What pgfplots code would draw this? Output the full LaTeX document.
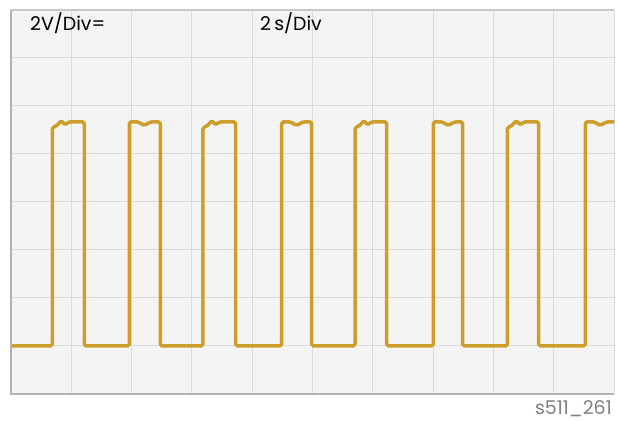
\documentclass[border=0pt]{standalone}
\usepackage{fontspec}
\setmainfont{Poppins}
\usepackage{pgfplots}
\pgfplotsset{compat=1.18}
\definecolor{wave}{RGB}{205,158,44}
\definecolor{bgc}{RGB}{244,244,244}
\definecolor{gridc}{RGB}{218,218,218}
\definecolor{bordc}{RGB}{178,178,178}
\definecolor{topc}{RGB}{200,200,200}
\definecolor{labc}{RGB}{128,128,128}
\begin{document}
\begin{tikzpicture}
\useasboundingbox (0,0) rectangle (618bp,421bp);
\begin{axis}[
  at={(11bp,27bp)}, anchor=south west,
  scale only axis, width=603bp, height=384bp,
  xmin=0, xmax=10, ymin=0, ymax=8,
  xtick={0,...,10}, ytick={0,...,8},
  xticklabels={}, yticklabels={},
  tick style={draw=none},
  grid=major, grid style={draw=gridc, line width=1bp},
  axis line style={draw=none},
  axis background/.style={fill=bgc},
  clip=false]
\addplot[wave, line width=3.5bp, rounded corners=1.8bp, line join=round] coordinates {
(0,1)
(0.685,1) (0.685,5.56) (0.745,5.57) (0.835,5.70) (0.895,5.60) (0.955,5.67) (1.216,5.67) (1.216,1)
(1.962,1) (1.962,5.67) (2.112,5.67) (2.212,5.59) (2.312,5.67) (2.476,5.67) (2.476,1)
(3.184,1) (3.184,5.56) (3.244,5.57) (3.334,5.70) (3.394,5.60) (3.454,5.67) (3.726,5.67) (3.726,1)
(4.489,1) (4.489,5.67) (4.639,5.67) (4.739,5.59) (4.839,5.67) (4.987,5.67) (4.987,1)
(5.705,1) (5.705,5.56) (5.765,5.57) (5.855,5.70) (5.915,5.60) (5.975,5.67) (6.231,5.67) (6.231,1)
(7.003,1) (7.003,5.67) (7.153,5.67) (7.253,5.59) (7.353,5.67) (7.491,5.67) (7.491,1)
(8.231,1) (8.231,5.56) (8.291,5.57) (8.381,5.70) (8.441,5.60) (8.501,5.67) (8.751,5.67) (8.751,1)
(9.524,1) (9.524,5.67) (9.674,5.67) (9.774,5.59) (9.874,5.67) (10,5.67)
};
\draw[topc, line width=2bp] (rel axis cs:0,1) -- (rel axis cs:1,1);
\draw[bordc, line width=2bp] (rel axis cs:0,1) -- (rel axis cs:0,0) -- (rel axis cs:1,0);
\node[anchor=base west, font=\fontsize{19}{22}\selectfont, inner sep=0pt] at (axis cs:0.315,7.5625) {2V/Div=};
\node[anchor=base west, font=\fontsize{19}{22}\selectfont, inner sep=0pt] at (axis cs:4.13,7.5625) {2\,s/Div};
\node[anchor=base east, font=\fontsize{19}{22}\selectfont, text=labc, inner sep=0pt] at (axis cs:9.967,-0.43) {s511\_261};
\end{axis}
\end{tikzpicture}
\end{document}
